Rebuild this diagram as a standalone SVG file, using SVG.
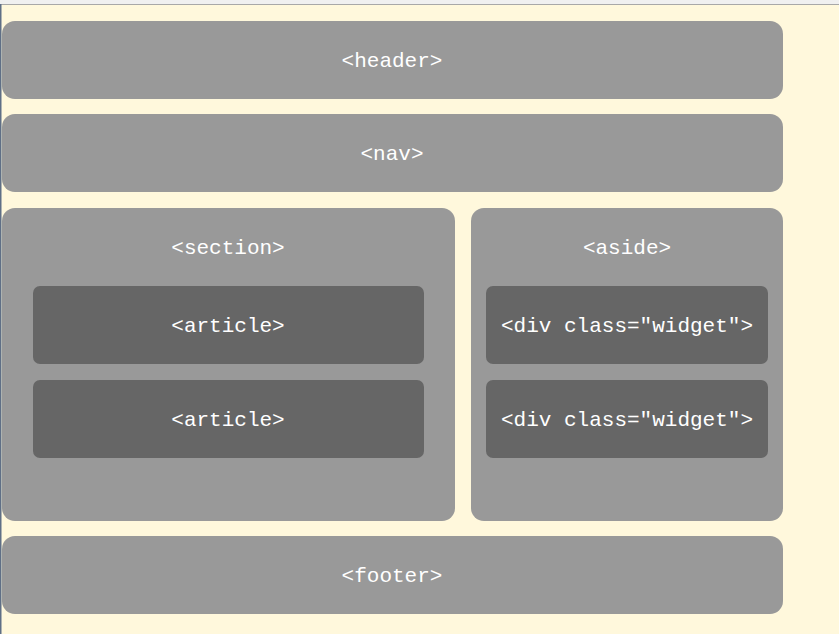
<svg xmlns="http://www.w3.org/2000/svg" width="839" height="634" viewBox="0 0 839 634">
<style>
.outer{fill:#999999}
.inner{fill:#666666}
text{font-family:"Liberation Mono","DejaVu Sans Mono",monospace;font-size:21px;fill:#ffffff;text-anchor:middle}
</style>
<rect x="0" y="0" width="839" height="634" fill="#fff8dc"/>
<rect x="0" y="0" width="839" height="4" fill="#f0f0f0"/>
<rect x="0" y="4" width="839" height="1" fill="#a8a8a8"/>
<rect x="0" y="4" width="1.5" height="630" fill="#5f6f86"/>
<g id="header"><rect class="outer" x="2" y="21" width="781" height="78" rx="13"/><text x="392" y="67">&lt;header&gt;</text></g>
<g id="nav"><rect class="outer" x="2" y="114" width="781" height="78" rx="13"/><text x="392" y="160">&lt;nav&gt;</text></g>
<g id="section"><rect class="outer" x="2" y="208" width="453" height="313" rx="13"/><text x="228" y="254">&lt;section&gt;</text></g>
<g id="article1"><rect class="inner" x="33" y="286" width="391" height="78" rx="7"/><text x="228" y="332">&lt;article&gt;</text></g>
<g id="article2"><rect class="inner" x="33" y="380" width="391" height="78" rx="7"/><text x="228" y="426">&lt;article&gt;</text></g>
<g id="aside"><rect class="outer" x="471" y="208" width="312" height="313" rx="13"/><text x="627" y="254">&lt;aside&gt;</text></g>
<g id="widget1"><rect class="inner" x="486" y="286" width="282" height="78" rx="7"/><text x="627" y="332">&lt;div class="widget"&gt;</text></g>
<g id="widget2"><rect class="inner" x="486" y="380" width="282" height="78" rx="7"/><text x="627" y="426">&lt;div class="widget"&gt;</text></g>
<g id="footer"><rect class="outer" x="2" y="536" width="781" height="78" rx="13"/><text x="392" y="582">&lt;footer&gt;</text></g>
<g id="connectors"/>
</svg>
